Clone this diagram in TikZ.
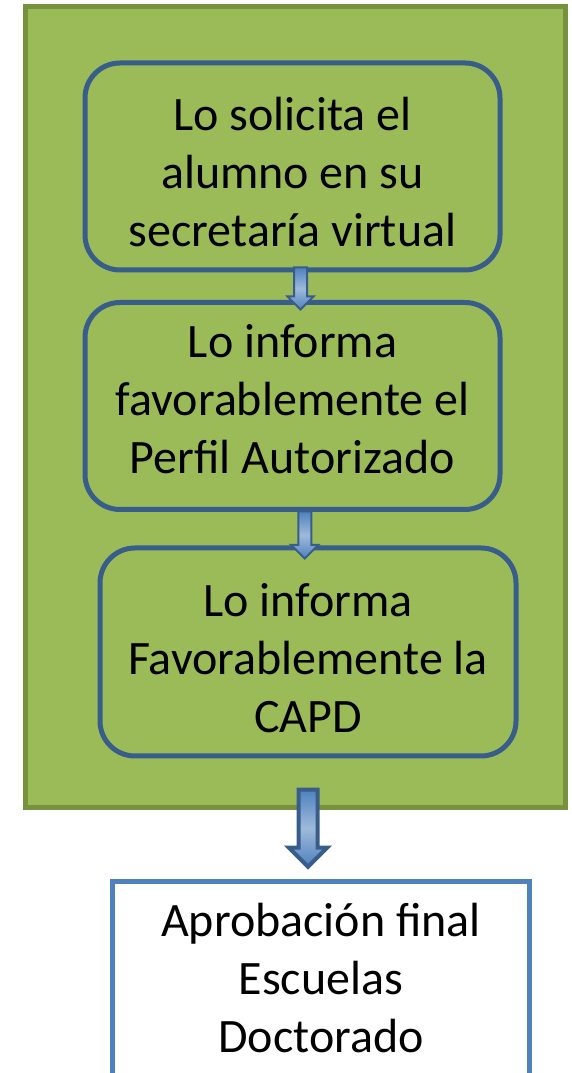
\documentclass[tikz,border=0pt]{standalone}
\usepackage{fontspec}
\setmainfont{Carlito}
\usetikzlibrary{shapes.arrows,positioning,calc}
\definecolor{panel}{HTML}{9BBB59}
\definecolor{panelrim}{HTML}{76923C}
\definecolor{rim}{HTML}{385D8A}
\definecolor{accent}{HTML}{4F81BD}

\begin{document}
\begin{tikzpicture}[x=1pt,y=1pt,every node/.style={font=\fontsize{48}{58}\selectfont,text=black},stage/.style={draw=rim,line width=5pt,rounded corners=35pt,align=center,minimum width=415pt,minimum height=207pt,inner sep=0pt},final/.style={draw=accent,fill=white,line width=5pt,align=center,minimum width=417pt,minimum height=208pt,inner sep=0pt},barrow/.style={single arrow,draw=rim,top color=accent,bottom color=accent,middle color=accent!55!white,line width=2pt,inner xsep=0pt,inner ysep=5.5pt,single arrow head extend=6.5pt,single arrow tip angle=90,rotate=-90}]
\path[use as bounding box] (0,0) rectangle (572,1073);

\node[draw=panelrim,fill=panel,line width=5pt,minimum width=540pt,minimum height=801pt] (panel) at (295,665.5) {};
\node[stage] (solicita) at (292.5,906.5) {\rule{0pt}{44pt}Lo solicita el\\alumno en su\\secretaría virtual};
\node[stage] (perfil) at (292.5,667) {Lo informa\\favorablemente el\\Perfil Autorizado\rule[-14pt]{0pt}{14pt}};
\node[stage,minimum width=416pt,minimum height=208pt] (capd) at (308,421) {\rule{0pt}{46pt}Lo informa\\Favorablemente la\\CAPD};
\node[final] (escuelas) at (321,87) {Aprobación final\\Escuelas\\Doctorado\rule[-16pt]{0pt}{16pt}};

\node[barrow,minimum height=42pt,minimum width=24pt] (a1) at ($(solicita.south)!.5!(perfil.north)+(8,1)$) {};
\node[barrow,minimum height=47pt,minimum width=25pt,single arrow head extend=7pt] (a2) at ($(perfil.south)!.5!(capd.north)+(4.5,-3)$) {};
\node[barrow,minimum height=77pt,minimum width=34pt,line width=4pt,inner ysep=7.5pt,single arrow head extend=9.5pt] (a3) at ($(panel.south)!.5!(escuelas.north)+(0,21.5)$) {};

\end{tikzpicture}
\end{document}
